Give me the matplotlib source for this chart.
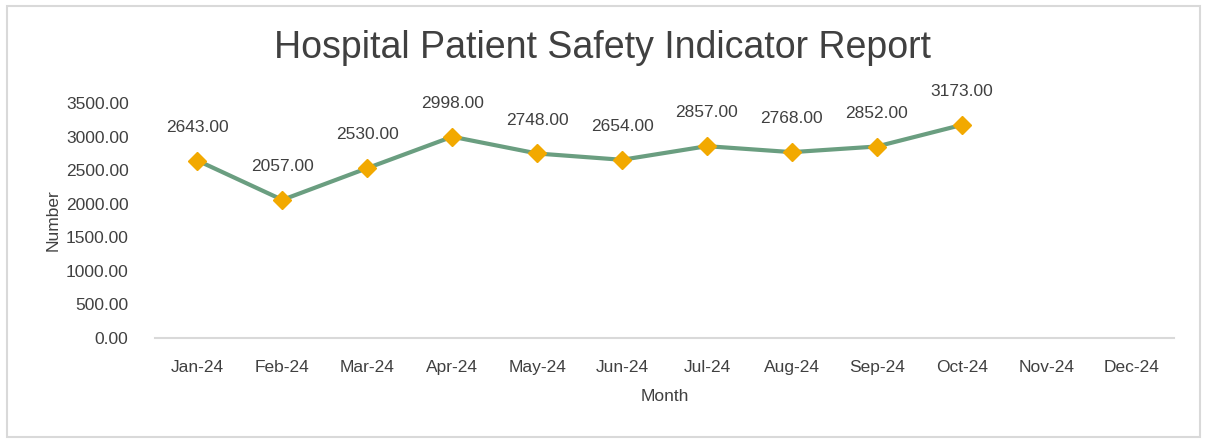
import matplotlib.pyplot as plt
from matplotlib.patches import Rectangle

months = ["Jan-24", "Feb-24", "Mar-24", "Apr-24", "May-24", "Jun-24",
          "Jul-24", "Aug-24", "Sep-24", "Oct-24", "Nov-24", "Dec-24"]
values = [2643, 2057, 2530, 2998, 2748, 2654, 2857, 2768, 2852, 3173]
y_ticks = [0, 500, 1000, 1500, 2000, 2500, 3000, 3500]

plt.rcParams['font.family'] = ['Liberation Sans', 'DejaVu Sans']
TEXT = "#404040"
FS = 12.5

fig = plt.figure(figsize=(12.05, 4.41), dpi=100)
ax = fig.add_axes([155 / 1205, 1 - 338 / 441, 1019 / 1205, 235 / 441])

x = list(range(len(values)))
ax.plot(x, values, color="#6A9E80", linewidth=3, marker="D", markersize=9,
        markerfacecolor="#F2A900", markeredgecolor="#F2A900", zorder=3)

for xi, v in zip(x, values):
    ax.annotate(f"{v:.2f}", (xi, v), xytext=(0, 24), textcoords="offset points",
                ha="center", va="center", fontsize=FS, color=TEXT)

ax.set_xlim(-0.5, len(months) - 0.5)
ax.set_ylim(0, 3500)
ax.set_xticks(range(len(months)))
ax.set_xticklabels(months)
ax.set_yticks(y_ticks)
ax.set_yticklabels([f"{t:.2f}" for t in y_ticks])
ax.tick_params(length=0, labelsize=FS, labelcolor=TEXT)
ax.tick_params(axis="x", pad=16)
ax.tick_params(axis="y", pad=19)

for side in ["top", "right", "left"]:
    ax.spines[side].set_visible(False)
ax.spines["bottom"].set_color("#D9D9D9")
ax.spines["bottom"].set_linewidth(1.5)

ax.set_xlabel("Month", fontsize=FS, color=TEXT, labelpad=10)
ax.set_ylabel("Number", fontsize=FS, color=TEXT, labelpad=4)

fig.text(0.5, 1 - 48 / 441, "Hospital Patient Safety Indicator Report",
         ha="center", va="center", fontsize=27, color=TEXT)

fig.patches.append(Rectangle((7 / 1205, 4 / 441), 1193 / 1205, 431 / 441,
                             transform=fig.transFigure, fill=False,
                             edgecolor="#D9D9D9", linewidth=1.5))

fig.savefig("out.png", dpi=100)
